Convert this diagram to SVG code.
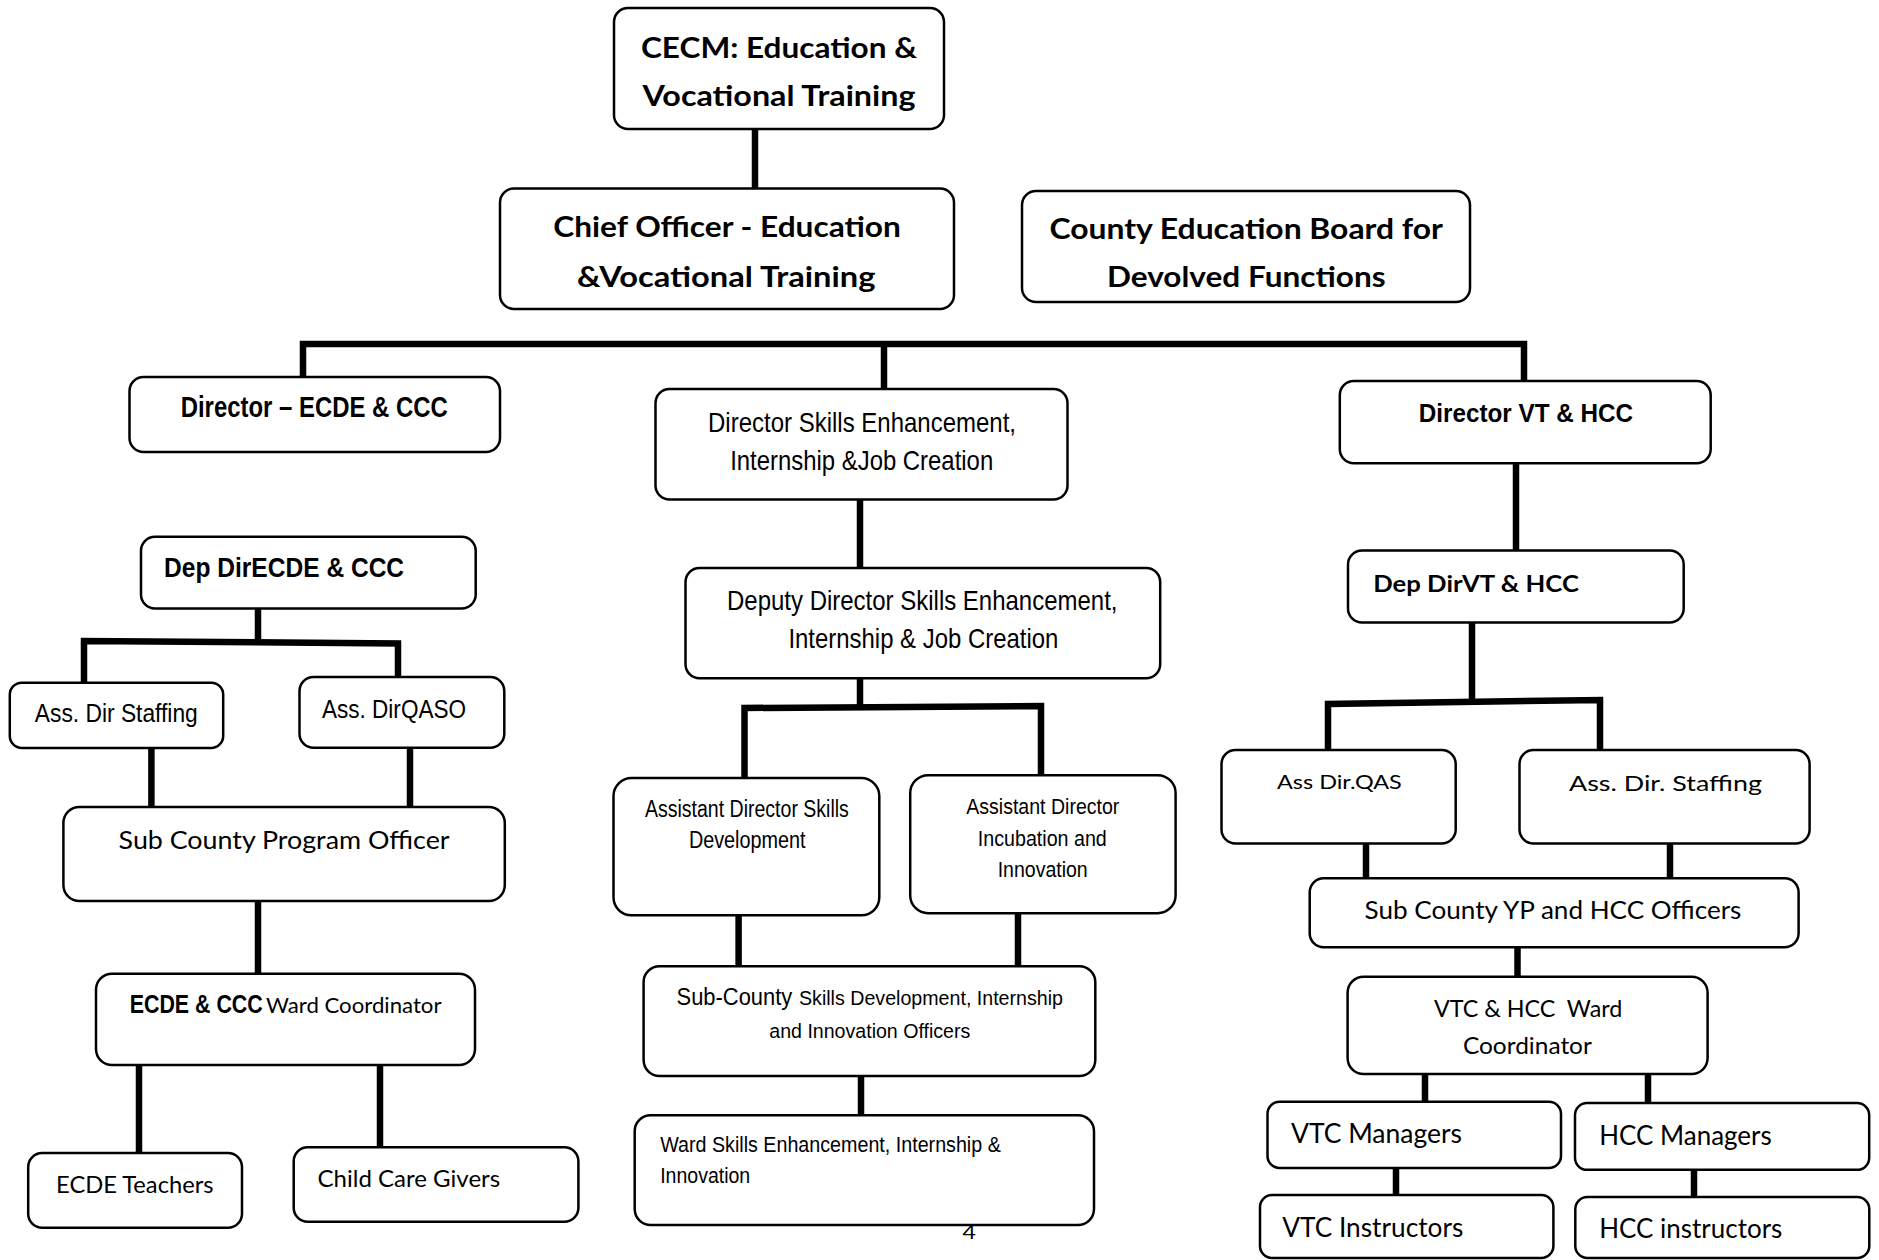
<svg xmlns="http://www.w3.org/2000/svg" width="1879" height="1260" viewBox="0 0 1879 1260">
<style>
.box{fill:#fff;stroke:#000;stroke-width:2.5}
.a{font-family:"Liberation Sans",Arial,sans-serif;fill:#000}
.c{font-family:Lato,"Open Sans","Liberation Sans",sans-serif;fill:#000}
.bd{font-weight:bold}
.con{fill:none;stroke:#000;stroke-width:6.5;stroke-linejoin:miter;stroke-linecap:butt}
</style>
<rect width="1879" height="1260" fill="#fff"/>
<g id="connectors">
<path class="con" d="M755 129V188"/>
<path class="con" d="M303 377V344H1524V381"/>
<path class="con" d="M884 344V389"/>
<path class="con" d="M860 499V568"/>
<path class="con" d="M860 678V707"/>
<path class="con" d="M744.5 778V708L1041 706V775"/>
<path class="con" d="M738.6 915V966"/>
<path class="con" d="M1018 913V966"/>
<path class="con" d="M861 1076V1115"/>
<path class="con" d="M258 609V642"/>
<path class="con" d="M84 683V641L398 643.5V677"/>
<path class="con" d="M151.4 748V807"/>
<path class="con" d="M410 748V806"/>
<path class="con" d="M258 901V974"/>
<path class="con" d="M139 1065V1153"/>
<path class="con" d="M380 1065V1147"/>
<path class="con" d="M1516 463V551"/>
<path class="con" d="M1472 622V702"/>
<path class="con" d="M1328 750V704L1600 700V750"/>
<path class="con" d="M1366 843V878"/>
<path class="con" d="M1670 843V878"/>
<path class="con" d="M1517.5 947V977"/>
<path class="con" d="M1425 1074V1102"/>
<path class="con" d="M1648 1074V1103"/>
<path class="con" d="M1396 1168V1195"/>
<path class="con" d="M1694 1170V1197"/>
</g>
<g id="n-cecm"><rect class="box" x="614" y="8" width="330" height="121" rx="14"/>
<text class="c bd" x="641" y="57.5" font-size="29" textLength="276" lengthAdjust="spacingAndGlyphs">CECM: Education &amp;</text>
<text class="c bd" x="642.5" y="105.5" font-size="29" textLength="273" lengthAdjust="spacingAndGlyphs">Vocational Training</text></g>
<g id="n-chief"><rect class="box" x="500" y="188.5" width="454" height="120.5" rx="14"/>
<text class="c bd" x="553.3" y="237" font-size="28" textLength="347.6" lengthAdjust="spacingAndGlyphs">Chief Officer - Education</text>
<text class="c bd" x="577" y="287" font-size="28" textLength="298.4" lengthAdjust="spacingAndGlyphs">&amp;Vocational Training</text></g>
<g id="n-board"><rect class="box" x="1022" y="191" width="448" height="111" rx="14"/>
<text class="c bd" x="1049.5" y="239.3" font-size="28" textLength="393.5" lengthAdjust="spacingAndGlyphs">County Education Board for</text>
<text class="c bd" x="1106.9" y="286.7" font-size="28" textLength="278.7" lengthAdjust="spacingAndGlyphs">Devolved Functions</text></g>
<g id="n-dir-ecde"><rect class="box" x="129.5" y="377" width="370.5" height="75" rx="14"/>
<text class="a bd" x="180.7" y="416.7" font-size="29" textLength="267" lengthAdjust="spacingAndGlyphs">Director – ECDE &amp; CCC</text></g>
<g id="n-dir-skills"><rect class="box" x="655.5" y="389" width="412" height="110.5" rx="14"/>
<text class="a" x="708" y="431.7" font-size="28" textLength="308" lengthAdjust="spacingAndGlyphs">Director Skills Enhancement,</text>
<text class="a" x="730.2" y="470" font-size="28" textLength="263" lengthAdjust="spacingAndGlyphs">Internship &amp;Job Creation</text></g>
<g id="n-dep-skills"><rect class="box" x="685.5" y="568" width="474.7" height="110.3" rx="14"/>
<text class="a" x="727" y="610" font-size="28" textLength="390.5" lengthAdjust="spacingAndGlyphs">Deputy Director Skills Enhancement,</text>
<text class="a" x="788.4" y="648.3" font-size="28" textLength="270" lengthAdjust="spacingAndGlyphs">Internship &amp; Job Creation</text></g>
<g id="n-asst-sd"><rect class="box" x="613.5" y="778" width="265.8" height="137.3" rx="18"/>
<text class="a" x="644.9" y="816.7" font-size="23" textLength="204" lengthAdjust="spacingAndGlyphs">Assistant Director Skills</text>
<text class="a" x="688.9" y="848.3" font-size="23" textLength="116.7" lengthAdjust="spacingAndGlyphs">Development</text></g>
<g id="n-asst-inc"><rect class="box" x="910.2" y="775.2" width="265.4" height="138" rx="18"/>
<text class="a" x="966.3" y="814" font-size="22" textLength="153" lengthAdjust="spacingAndGlyphs">Assistant Director</text>
<text class="a" x="977.8" y="845.7" font-size="22" textLength="129" lengthAdjust="spacingAndGlyphs">Incubation and</text>
<text class="a" x="997.7" y="877.3" font-size="22" textLength="90" lengthAdjust="spacingAndGlyphs">Innovation</text></g>
<g id="n-subcounty-skills"><rect class="box" x="643.6" y="966.3" width="451.7" height="109.7" rx="16"/>
<text class="a" x="676.6" y="1005" font-size="23" textLength="115.6" lengthAdjust="spacingAndGlyphs">Sub-County</text>
<text class="a" x="799" y="1005" font-size="19.5" textLength="264" lengthAdjust="spacingAndGlyphs">Skills Development, Internship</text>
<text class="a" x="769.3" y="1038.3" font-size="20.5" textLength="201" lengthAdjust="spacingAndGlyphs">and Innovation Officers</text></g>
<g id="n-ward-skills"><rect class="box" x="634.7" y="1115.2" width="459.3" height="109.8" rx="16"/>
<text class="a" x="660.2" y="1151.7" font-size="22" textLength="340.6" lengthAdjust="spacingAndGlyphs">Ward Skills Enhancement, Internship &amp;</text>
<text class="a" x="660.2" y="1183.3" font-size="22" textLength="90" lengthAdjust="spacingAndGlyphs">Innovation</text></g>
<g id="n-dep-ecde"><rect class="box" x="141" y="536.8" width="334.7" height="71.7" rx="14"/>
<text class="a bd" x="164.1" y="577.3" font-size="28" textLength="240" lengthAdjust="spacingAndGlyphs">Dep DirECDE &amp; CCC</text></g>
<g id="n-staffing-l"><rect class="box" x="9.8" y="682.7" width="213.4" height="65.3" rx="12"/>
<text class="a" x="34.8" y="721.7" font-size="25.5" textLength="163" lengthAdjust="spacingAndGlyphs">Ass. Dir Staffing</text></g>
<g id="n-qaso"><rect class="box" x="299.5" y="677" width="204.8" height="70.8" rx="14"/>
<text class="a" x="322" y="718.3" font-size="25.5" textLength="144" lengthAdjust="spacingAndGlyphs">Ass. DirQASO</text></g>
<g id="n-program"><rect class="box" x="63.4" y="807" width="441.4" height="94" rx="16"/>
<text class="c" x="118.6" y="849.3" font-size="24.7" textLength="331" lengthAdjust="spacingAndGlyphs">Sub County Program Officer</text></g>
<g id="n-ward-ecde"><rect class="box" x="96" y="973.8" width="379" height="91.2" rx="16"/>
<text class="a bd" transform="translate(129.7 1013.3) scale(0.835 1)" x="0" y="0" font-size="25.6">ECDE &amp; CCC</text>
<text class="c" x="266" y="1013.3" font-size="21" textLength="175.5" lengthAdjust="spacingAndGlyphs">Ward Coordinator</text></g>
<g id="n-teachers"><rect class="box" x="28.2" y="1153" width="213.8" height="74.7" rx="14"/>
<text class="c" x="56.1" y="1193.3" font-size="23" textLength="157.4" lengthAdjust="spacingAndGlyphs">ECDE Teachers</text></g>
<g id="n-childcare"><rect class="box" x="293.7" y="1147.2" width="284.7" height="74.6" rx="14"/>
<text class="c" x="317.5" y="1186.7" font-size="23" textLength="182.7" lengthAdjust="spacingAndGlyphs">Child Care Givers</text></g>
<g id="n-dir-vt"><rect class="box" x="1339.8" y="381" width="370.9" height="82.3" rx="14"/>
<text class="a bd" x="1418.7" y="421.7" font-size="26" textLength="214.4" lengthAdjust="spacingAndGlyphs">Director VT &amp; HCC</text></g>
<g id="n-dep-vt"><rect class="box" x="1348" y="550.6" width="335.7" height="71.8" rx="14"/>
<text class="c bd" x="1373.2" y="591.7" font-size="23.3" textLength="205.7" lengthAdjust="spacingAndGlyphs">Dep DirVT &amp; HCC</text></g>
<g id="n-qas"><rect class="box" x="1221.5" y="750" width="234.2" height="93.5" rx="14"/>
<text class="c" x="1277" y="789.3" font-size="20" textLength="124.8" lengthAdjust="spacingAndGlyphs">Ass Dir.QAS</text></g>
<g id="n-staffing-r"><rect class="box" x="1519.5" y="750" width="290.1" height="93.5" rx="14"/>
<text class="c" x="1569" y="790.7" font-size="22" textLength="193" lengthAdjust="spacingAndGlyphs">Ass. Dir. Staffing</text></g>
<g id="n-yp"><rect class="box" x="1309.7" y="878.3" width="488.9" height="68.9" rx="14"/>
<text class="c" x="1364.6" y="919.3" font-size="24.6" textLength="376.8" lengthAdjust="spacingAndGlyphs">Sub County YP and HCC Officers</text></g>
<g id="n-vtc-ward"><rect class="box" x="1347.6" y="976.7" width="360" height="97.3" rx="16"/>
<text class="c" x="1433.9" y="1016.7" font-size="23" textLength="188.4" lengthAdjust="spacingAndGlyphs" style="white-space:pre">VTC &amp; HCC  Ward</text>
<text class="c" x="1462.9" y="1054.3" font-size="23" textLength="129" lengthAdjust="spacingAndGlyphs">Coordinator</text></g>
<g id="n-vtc-mgr"><rect class="box" x="1267.5" y="1101.8" width="293.5" height="66.2" rx="12"/>
<text class="c" x="1291" y="1142.7" font-size="26" textLength="171" lengthAdjust="spacingAndGlyphs">VTC Managers</text></g>
<g id="n-hcc-mgr"><rect class="box" x="1575" y="1103" width="294.2" height="66.8" rx="12"/>
<text class="c" x="1599.3" y="1145" font-size="26" textLength="172.4" lengthAdjust="spacingAndGlyphs">HCC Managers</text></g>
<g id="n-vtc-instr"><rect class="box" x="1260" y="1195" width="293.4" height="63" rx="12"/>
<text class="c" x="1282.3" y="1236.7" font-size="26" textLength="181" lengthAdjust="spacingAndGlyphs">VTC Instructors</text></g>
<g id="n-hcc-instr"><rect class="box" x="1575.3" y="1197" width="294" height="61" rx="12"/>
<text class="c" x="1599.3" y="1238.3" font-size="26" textLength="183" lengthAdjust="spacingAndGlyphs">HCC instructors</text></g>
<text class="c" x="962.5" y="1239" font-size="19" textLength="13.4" lengthAdjust="spacingAndGlyphs">4</text>
</svg>
